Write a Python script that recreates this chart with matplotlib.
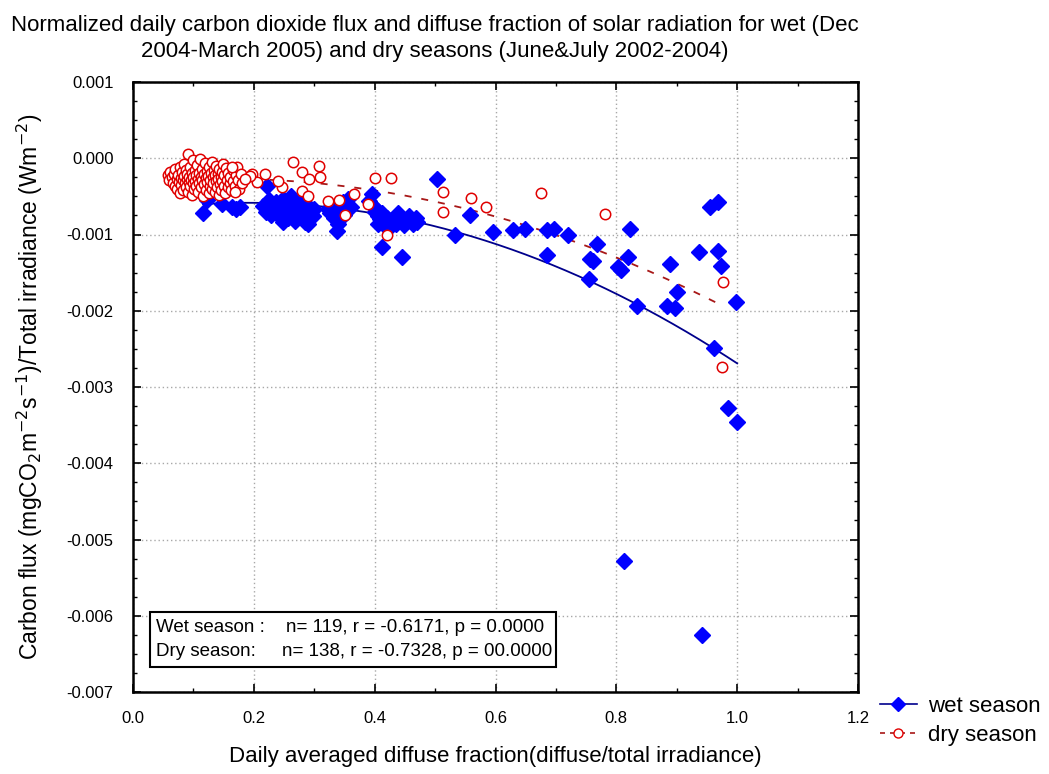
import numpy as np
import matplotlib
matplotlib.use("Agg")
import matplotlib.pyplot as plt
from matplotlib.lines import Line2D
from matplotlib.patches import Rectangle
from matplotlib.ticker import MultipleLocator, FixedLocator, FixedFormatter

plt.rcParams['font.family'] = ['Liberation Sans', 'DejaVu Sans']
plt.rcParams['axes.unicode_minus'] = False

# ---------------- data ----------------
wet_x = [0.116, 0.123, 0.147, 0.164, 0.177, 0.170, 0.222,
         0.215, 0.220, 0.225, 0.228, 0.232, 0.236, 0.238, 0.242, 0.245, 0.248,
         0.250, 0.252, 0.255, 0.257, 0.259, 0.262, 0.264, 0.266, 0.268, 0.270,
         0.272, 0.275, 0.277, 0.279, 0.281, 0.283, 0.285, 0.287, 0.290, 0.292,
         0.295, 0.298, 0.300, 0.262, 0.248,
         0.322, 0.326, 0.330, 0.333, 0.336, 0.338, 0.340, 0.343, 0.347, 0.350,
         0.356, 0.360,
         0.390, 0.395, 0.398, 0.400, 0.403, 0.406, 0.409, 0.412, 0.412, 0.415,
         0.418, 0.421, 0.425, 0.428, 0.432, 0.436, 0.440, 0.443, 0.445, 0.448,
         0.452, 0.456, 0.460, 0.464, 0.468, 0.470,
         0.503, 0.533, 0.558, 0.596, 0.629, 0.649, 0.685, 0.696, 0.720, 0.685,
         0.768, 0.757, 0.762, 0.755, 0.803, 0.808, 0.823, 0.820, 0.834, 0.889,
         0.900, 0.884, 0.897, 0.936, 0.955, 0.969, 0.969, 0.973, 0.998, 0.961,
         0.985, 1.000, 0.942, 0.813,
         0.272, 0.284, 0.245, 0.438, 0.405]
wet_y = [-0.72e-3, -0.55e-3, -0.60e-3, -0.64e-3, -0.64e-3, -0.66e-3, -0.36e-3,
         -0.62e-3, -0.70e-3, -0.55e-3, -0.74e-3, -0.64e-3, -0.58e-3, -0.69e-3, -0.76e-3, -0.62e-3, -0.53e-3,
         -0.70e-3, -0.66e-3, -0.58e-3, -0.79e-3, -0.62e-3, -0.72e-3, -0.55e-3, -0.67e-3, -0.82e-3, -0.60e-3,
         -0.74e-3, -0.65e-3, -0.52e-3, -0.70e-3, -0.78e-3, -0.61e-3, -0.68e-3, -0.73e-3, -0.86e-3, -0.64e-3,
         -0.70e-3, -0.76e-3, -0.66e-3, -0.50e-3, -0.83e-3,
         -0.66e-3, -0.72e-3, -0.64e-3, -0.78e-3, -0.70e-3, -0.95e-3, -0.86e-3, -0.68e-3, -0.58e-3, -0.74e-3,
         -0.53e-3, -0.64e-3,
         -0.56e-3, -0.47e-3, -0.62e-3, -0.70e-3, -0.66e-3, -0.76e-3, -0.80e-3, -0.72e-3, -1.16e-3, -0.85e-3,
         -0.90e-3, -0.78e-3, -0.84e-3, -0.88e-3, -0.80e-3, -0.86e-3, -0.82e-3, -0.78e-3, -1.29e-3, -0.88e-3,
         -0.84e-3, -0.76e-3, -0.80e-3, -0.86e-3, -0.78e-3, -0.83e-3,
         -0.27e-3, -1.00e-3, -0.75e-3, -0.965e-3, -0.94e-3, -0.93e-3, -0.94e-3, -0.93e-3, -1.00e-3, -1.27e-3,
         -1.13e-3, -1.32e-3, -1.35e-3, -1.58e-3, -1.42e-3, -1.46e-3, -0.93e-3, -1.29e-3, -1.94e-3, -1.39e-3,
         -1.75e-3, -1.94e-3, -1.97e-3, -1.23e-3, -0.64e-3, -0.58e-3, -1.21e-3, -1.41e-3, -1.88e-3, -2.49e-3,
         -3.27e-3, -3.46e-3, -6.25e-3, -5.28e-3,
         -0.58e-3, -0.83e-3, -0.72e-3, -0.72e-3, -0.86e-3]

dry_x = [0.058, 0.060, 0.062, 0.064, 0.066, 0.068, 0.069, 0.070,
         0.072, 0.073, 0.075, 0.076, 0.077, 0.078, 0.079, 0.080, 0.081, 0.082,
         0.083, 0.084, 0.085, 0.086, 0.087, 0.088, 0.089,
         0.090, 0.091, 0.091, 0.092, 0.093, 0.094, 0.095, 0.096, 0.097, 0.098,
         0.099, 0.100, 0.100, 0.101, 0.102, 0.103, 0.104, 0.105, 0.106, 0.107,
         0.108, 0.109, 0.110,
         0.111, 0.112, 0.113, 0.114, 0.115, 0.116, 0.117, 0.118, 0.119, 0.120,
         0.121, 0.122, 0.123, 0.124, 0.125, 0.126, 0.127, 0.128, 0.129, 0.130,
         0.131, 0.132, 0.133, 0.134, 0.135, 0.136, 0.137, 0.138, 0.139, 0.140,
         0.141, 0.142, 0.143, 0.144, 0.145, 0.146, 0.147, 0.148, 0.149,
         0.150, 0.151, 0.153, 0.154, 0.155, 0.157, 0.158, 0.160, 0.161, 0.163,
         0.165, 0.166, 0.168, 0.170, 0.172, 0.174, 0.176, 0.178, 0.180,
         0.197, 0.205, 0.219, 0.194, 0.169, 0.164, 0.247, 0.265, 0.280, 0.291,
         0.308, 0.310, 0.280, 0.290, 0.323, 0.341, 0.351, 0.365, 0.389, 0.400,
         0.427, 0.420, 0.513, 0.513, 0.559, 0.585, 0.675, 0.781, 0.976, 0.975,
         0.185, 0.240]
dry_y = [-0.22e-3, -0.28e-3, -0.18e-3, -0.25e-3, -0.32e-3, -0.20e-3, -0.36e-3, -0.14e-3,
         -0.27e-3, -0.40e-3, -0.22e-3, -0.31e-3, -0.12e-3, -0.45e-3, -0.26e-3, -0.35e-3, -0.18e-3, -0.29e-3,
         -0.42e-3, -0.08e-3, -0.23e-3, -0.33e-3, -0.38e-3, -0.15e-3, -0.27e-3,
         -0.20e-3, 0.06e-3, -0.44e-3, -0.31e-3, -0.24e-3, -0.11e-3, -0.36e-3, -0.28e-3, -0.19e-3, -0.48e-3,
         -0.33e-3, -0.02e-3, -0.25e-3, -0.40e-3, -0.16e-3, -0.30e-3, -0.22e-3, -0.37e-3, -0.09e-3, -0.27e-3,
         -0.44e-3, -0.19e-3, -0.33e-3,
         -0.01e-3, -0.24e-3, -0.38e-3, -0.14e-3, -0.29e-3, -0.50e-3, -0.21e-3, -0.34e-3, -0.06e-3, -0.26e-3,
         -0.42e-3, -0.17e-3, -0.31e-3, -0.23e-3, -0.46e-3, -0.11e-3, -0.36e-3, -0.28e-3, -0.19e-3, -0.40e-3,
         -0.05e-3, -0.25e-3, -0.33e-3, -0.15e-3, -0.44e-3, -0.22e-3, -0.30e-3, -0.10e-3, -0.38e-3, -0.20e-3,
         -0.27e-3, -0.48e-3, -0.14e-3, -0.34e-3, -0.24e-3, -0.41e-3, -0.18e-3, -0.30e-3, -0.08e-3,
         -0.36e-3, -0.22e-3, -0.45e-3, -0.13e-3, -0.29e-3, -0.38e-3, -0.19e-3, -0.33e-3, -0.25e-3, -0.42e-3,
         -0.16e-3, -0.30e-3, -0.36e-3, -0.22e-3, -0.12e-3, -0.28e-3, -0.40e-3, -0.20e-3, -0.33e-3,
         -0.21e-3, -0.31e-3, -0.21e-3, -0.23e-3, -0.44e-3, -0.12e-3, -0.38e-3, -0.05e-3, -0.18e-3, -0.27e-3,
         -0.10e-3, -0.25e-3, -0.43e-3, -0.49e-3, -0.56e-3, -0.55e-3, -0.75e-3, -0.47e-3, -0.60e-3, -0.26e-3,
         -0.26e-3, -1.01e-3, -0.44e-3, -0.70e-3, -0.52e-3, -0.64e-3, -0.46e-3, -0.73e-3, -1.62e-3, -2.74e-3,
         -0.27e-3, -0.30e-3]

# quadratic fit curves as drawn in the picture (coefficients of x^2, x, 1)
wet_fit_coef = [-3.21e-3, 1.22e-3, -0.70e-3]
dry_fit_coef = [-2.436e-3, 0.724e-3, -0.322e-3]

x_ticks = [0.0, 0.2, 0.4, 0.6, 0.8, 1.0, 1.2]
x_tick_labels = ["0.0", "0.2", "0.4", "0.6", "0.8", "1.0", "1.2"]
y_ticks = [0.001, 0.0, -0.001, -0.002, -0.003, -0.004, -0.005, -0.006, -0.007]
y_tick_labels = ["0.001", "0.000", "-0.001", "-0.002", "-0.003", "-0.004",
                 "-0.005", "-0.006", "-0.007"]

title_lines = ["Normalized daily carbon dioxide flux and diffuse fraction of solar radiation for wet (Dec",
               "2004-March 2005) and dry seasons (June&July 2002-2004)"]
series_names = ["wet season", "dry season"]
stats_labels = ["Wet season :", "Dry season:"]
stats_values = ["n= 119, r = -0.6171, p = 0.0000", "n= 138, r = -0.7328, p = 00.0000"]

# ---------------- figure ----------------
W, H = 1049, 774
fig = plt.figure(figsize=(W / 100, H / 100), dpi=100)
ax = fig.add_axes([133 / W, 1 - 692 / H, 725 / W, 610 / H])

wet_col = "#0000FF"
wet_line = "#00008C"
dry_col = "#E00000"
dry_line = "#A81818"

wx = np.array(wet_x); wy = np.array(wet_y)
dx = np.array(dry_x); dy = np.array(dry_y)
xw = np.linspace(wx.min(), wx.max(), 200)
xd = np.linspace(dx.min(), dx.max(), 200)
ax.plot(xw, np.polyval(wet_fit_coef, xw), color=wet_line, lw=1.3, zorder=3)
ax.plot(xd, np.polyval(dry_fit_coef, xd), color=dry_line, lw=1.3, ls=(0, (3.9, 5.5)), zorder=3)

ax.plot(wx, wy, ls='none', marker='D', ms=7.8, mfc=wet_col, mec=wet_col, zorder=4)
ax.plot(dx, dy, ls='none', marker='o', ms=7.5, mfc='white', mec=dry_col, mew=1.1, zorder=5)

ax.set_xlim(0, 1.2)
ax.set_ylim(-0.007, 0.001)
ax.xaxis.set_major_locator(FixedLocator(x_ticks))
ax.xaxis.set_major_formatter(FixedFormatter(x_tick_labels))
ax.yaxis.set_major_locator(FixedLocator(y_ticks))
ax.yaxis.set_major_formatter(FixedFormatter(y_tick_labels))
ax.yaxis.set_minor_locator(MultipleLocator(0.00025))
ax.xaxis.set_minor_locator(MultipleLocator(0.1))

ax.tick_params(which='both', direction='in', top=True, right=True, colors='black')
ax.tick_params(which='major', length=6, width=1.2, labelsize=12)
ax.tick_params(which='minor', length=3, width=1.0)
ax.tick_params(axis='y', pad=14)
ax.tick_params(axis='x', pad=14)
for s in ax.spines.values():
    s.set_linewidth(1.8)
    s.set_color('black')

ax.grid(True, which='major', color='#A8A8A8', lw=1.0, ls=(0, (1, 2)))
ax.set_axisbelow(True)

ax.set_xlabel("Daily averaged diffuse fraction(diffuse/total irradiance)", fontsize=16)
ax.xaxis.set_label_coords(0.5, (692 - 746) / 610)
ax.set_ylabel("Carbon flux (mgCO$_2$m$^{-2}$s$^{-1}$)/Total irradiance (Wm$^{-2}$)", fontsize=16.5)
ax.yaxis.set_label_coords((45 - 133) / 725, 0.5)

# title
fig.text(435 / W, 1 - 25 / H, title_lines[0], ha='center', va='center', fontsize=16)
fig.text(435 / W, 1 - 52 / H, title_lines[1], ha='center', va='center', fontsize=16)

# stats box
ax.add_patch(Rectangle(((150 - 133) / 725, (692 - 667) / 610), (556 - 150) / 725, (667 - 612) / 610,
                       transform=ax.transAxes, facecolor='white', edgecolor='black', lw=1.5, zorder=6))
ax.text((156 - 133) / 725, (692 - 627) / 610, stats_labels[0], transform=ax.transAxes,
        ha='left', va='center', fontsize=13.5, zorder=7)
ax.text((156 - 133) / 725, (692 - 652) / 610, stats_labels[1], transform=ax.transAxes,
        ha='left', va='center', fontsize=13.5, zorder=7)
ax.text((286 - 133) / 725, (692 - 627) / 610, stats_values[0], transform=ax.transAxes,
        ha='left', va='center', fontsize=13.5, zorder=7)
ax.text((282 - 133) / 725, (692 - 652) / 610, stats_values[1], transform=ax.transAxes,
        ha='left', va='center', fontsize=13.5, zorder=7)

# legend
handles = [Line2D([], [], color=wet_line, lw=1.2, marker='D', ms=7, mfc=wet_col, mec=wet_col),
           Line2D([], [], color=dry_line, lw=1.2, ls=(0, (3, 3)), marker='o', ms=6.5,
                  mfc='white', mec=dry_col)]
fig.legend(handles, series_names, loc='upper left', bbox_to_anchor=(880 / W, 1 - 696 / H),
           frameon=False, fontsize=16, handlelength=1.65, handletextpad=0.5, labelspacing=0.36,
           borderaxespad=0, borderpad=0)

fig.savefig("out.png", dpi=100)
